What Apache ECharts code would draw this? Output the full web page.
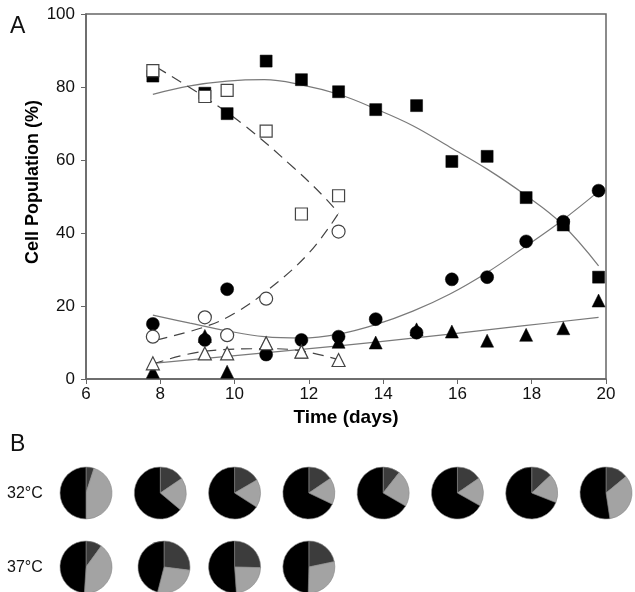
<!DOCTYPE html>
<html><head><meta charset="utf-8">
<script src="https://cdn.jsdelivr.net/npm/echarts@6/dist/echarts.min.js"></script>
<style>html,body{margin:0;padding:0;background:#fff}#c{width:635px;height:592px}</style>
</head><body><div id="c"></div>
<script>
// ---- data ----
const fsqX = [7.8, 9.2, 9.8, 10.85, 11.8, 12.8, 13.8, 14.9, 15.85, 16.8, 17.85, 18.85, 19.8];
const fsqY = [83, 78.3, 72.7, 87.1, 82.0, 78.7, 73.8, 74.9, 59.6, 61.0, 49.7, 42.2, 27.9];
const fciX = [7.8, 9.2, 9.8, 10.85, 11.8, 12.8, 13.8, 14.9, 15.85, 16.8, 17.85, 18.85, 19.8];
const fciY = [15.1, 10.7, 24.6, 6.7, 10.7, 11.6, 16.4, 12.7, 27.3, 27.9, 37.7, 43.1, 51.6];
const ftrX = [7.8, 9.2, 9.8, 10.85, 11.8, 12.8, 13.8, 14.9, 15.85, 16.8, 17.85, 18.85, 19.8];
const ftrY = [2.0, 11.8, 2.0, 9.8, 7.5, 10.2, 10.0, 13.6, 13.0, 10.5, 12.1, 13.9, 21.5];
const osqX = [7.8, 9.2, 9.8, 10.85, 11.8, 12.8];
const osqY = [84.5, 77.4, 79.1, 67.9, 45.2, 50.2];
const ociX = [7.8, 9.2, 9.8, 10.85, 12.8];
const ociY = [11.6, 16.9, 12.0, 22.0, 40.4];
const otrX = [7.8, 9.2, 9.8, 10.85, 11.8, 12.8];
const otrY = [4.3, 7.0, 7.0, 9.8, 7.5, 5.2];

// fitted curves
const fitSqX = [7.8, 8.8, 9.8, 10.8, 11.8, 12.8, 13.8, 14.8, 15.8, 16.8, 17.8, 18.8, 19.8];
const fitSqY = [78.0, 80.3, 81.6, 82.0, 80.6, 78.0, 74.0, 69.4, 63.5, 57.5, 50.6, 42.6, 31.0];
const fitCiX = [7.8, 8.8, 9.8, 10.8, 11.8, 12.8, 13.8, 14.8, 15.8, 16.8, 17.8, 18.8, 19.8];
const fitCiY = [17.5, 15.3, 13.2, 11.6, 11.2, 12.3, 14.9, 18.6, 23.3, 29.2, 36.1, 43.3, 51.4];
const fitTrX = [7.8, 9.8, 11.8, 13.8, 15.8, 17.8, 19.8];
const fitTrY = [4.3, 6.2, 8.1, 10.1, 12.3, 14.6, 16.9];
const fitOsqX = [7.9, 9.2, 10.3, 11.6, 12.4, 12.8];
const fitOsqY = [85.4, 77.2, 69.2, 57.8, 50.0, 45.4];
const fitOciX = [7.9, 9.2, 10.0, 10.9, 12.0, 12.8];
const fitOciY = [10.7, 14.3, 18.0, 24.4, 34.5, 45.4];
const fitOtrX = [7.8, 9.2, 10.9, 11.8, 12.8];
const fitOtrY = [4.1, 7.6, 8.3, 7.7, 5.3];

const xTicks = [6, 8, 10, 12, 14, 16, 18, 20];
const yTicks = [0, 20, 40, 60, 80, 100];

// pie charts (panel B): fractions (%) dark grey / light grey / black
const pieNames = ['dark', 'light', 'black'];
const pie32Day = [6, 8, 10, 12, 14, 16, 18, 20];
const pie32Dark = [5, 15.5, 16.6, 15.5, 10.6, 15.4, 13, 14];
const pie32Light = [45, 20.6, 17.5, 16.6, 22.8, 17.8, 18, 33.6];
const pie32Black = [50, 63.9, 65.9, 67.9, 66.6, 66.8, 69, 52.4];
const pie37Day = [6, 8.1, 10, 12];
const pie37Dark = [10, 27, 25.4, 21.7];
const pie37Light = [41, 27, 23.5, 28.7];
const pie37Black = [49, 46, 51.1, 49.6];

// ---- chart ----
const FONT = 'Liberation Sans, Arial, sans-serif';
const chart = echarts.init(document.getElementById('c'), null, {renderer: 'canvas'});
const zip = (xs, ys) => xs.map((x, i) => [x, ys[i]]);

function curve(xs, ys, dashed) {
  return {
    type: 'line', data: zip(xs, ys), smooth: 0.4, showSymbol: false, silent: true,
    lineStyle: dashed ? {color: '#444', width: 1.2, type: [11, 7]} : {color: '#7a7a7a', width: 1.2},
    z: 2
  };
}
function pts(xs, ys, symbol, size, filled) {
  return {
    type: 'scatter', data: zip(xs, ys), symbol: symbol, symbolSize: size, silent: true,
    itemStyle: filled ? {color: '#000', borderColor: '#000', borderWidth: 0.5, opacity: 1}
                      : {color: '#fff', borderColor: '#444', borderWidth: 1.2, opacity: 1},
    z: filled ? 3 : 4
  };
}

const baseSeries = [
  curve(fitSqX, fitSqY, false),
  curve(fitCiX, fitCiY, false),
  curve(fitTrX, fitTrY, false),
  curve(fitOsqX, fitOsqY, true),
  curve(fitOciX, fitOciY, true),
  curve(fitOtrX, fitOtrY, true),
  pts(ftrX, ftrY, 'triangle', 13, true),
  pts(fciX, fciY, 'circle', 13, true),
  pts(fsqX, fsqY, 'rect', 12, true),
  pts(otrX, otrY, 'triangle', 13, false),
  pts(ociX, ociY, 'circle', 13, false),
  pts(osqX, osqY, 'rect', 12, false)
];

const option = {
  animation: false,
  grid: {left: 86, right: 29, top: 14, bottom: 213, show: true, borderColor: '#666', borderWidth: 1.5, backgroundColor: 'transparent'},
  xAxis: {
    type: 'value', min: xTicks[0], max: xTicks[xTicks.length - 1], interval: 2,
    axisLine: {lineStyle: {color: '#666', width: 1.5}},
    axisTick: {show: true, inside: false, length: 5, lineStyle: {color: '#666'}},
    axisLabel: {fontSize: 17, color: '#111', fontFamily: FONT, margin: 7},
    splitLine: {show: false},
    name: 'Time (days)', nameLocation: 'middle', nameGap: 25,
    nameTextStyle: {fontSize: 19, fontWeight: 'bold', color: '#000', fontFamily: FONT}
  },
  yAxis: {
    type: 'value', min: yTicks[0], max: yTicks[yTicks.length - 1], interval: 20,
    axisLine: {show: true, lineStyle: {color: '#666', width: 1.5}},
    axisTick: {show: true, inside: false, length: 5, lineStyle: {color: '#666'}},
    axisLabel: {fontSize: 17, color: '#111', fontFamily: FONT, margin: 11},
    splitLine: {show: false}
  },
  graphic: [
    {type: 'text', left: 10, top: 15, style: {text: 'A', font: '23px ' + FONT, fill: '#111'}},
    {type: 'text', left: 10, top: 433, style: {text: 'B', font: '23px ' + FONT, fill: '#111'}},
    {type: 'text', left: 7, top: 486, style: {text: '32°C', font: '16px ' + FONT, fill: '#111'}},
    {type: 'text', left: 7, top: 560, style: {text: '37°C', font: '16px ' + FONT, fill: '#111'}},
    {type: 'text', x: 33, y: 182, rotation: Math.PI / 2,
     style: {text: 'Cell Population (%)', font: 'bold 18px ' + FONT, fill: '#000', align: 'center', verticalAlign: 'middle'}}
  ],
  series: baseSeries
};
chart.setOption(option);

// pies positioned under the time axis positions
const PIE_COLORS = ['#3c3c3c', '#a3a3a3', '#000000'];
function pieSeries(day, rowY, vals) {
  const px = chart.convertToPixel({gridIndex: 0}, [day, 0])[0];
  return {
    type: 'pie', center: [px, rowY], radius: 26, startAngle: 90, clockwise: true,
    silent: true, label: {show: false}, labelLine: {show: false},
    itemStyle: {borderColor: '#888', borderWidth: 0.6},
    color: PIE_COLORS,
    data: pieNames.map((n, i) => ({name: n, value: vals[i]}))
  };
}
const pies = [];
pie32Day.forEach((d, i) => pies.push(pieSeries(d, 493, [pie32Dark[i], pie32Light[i], pie32Black[i]])));
pie37Day.forEach((d, i) => pies.push(pieSeries(d, 567, [pie37Dark[i], pie37Light[i], pie37Black[i]])));
chart.setOption({series: baseSeries.concat(pies)});
</script></body></html>
